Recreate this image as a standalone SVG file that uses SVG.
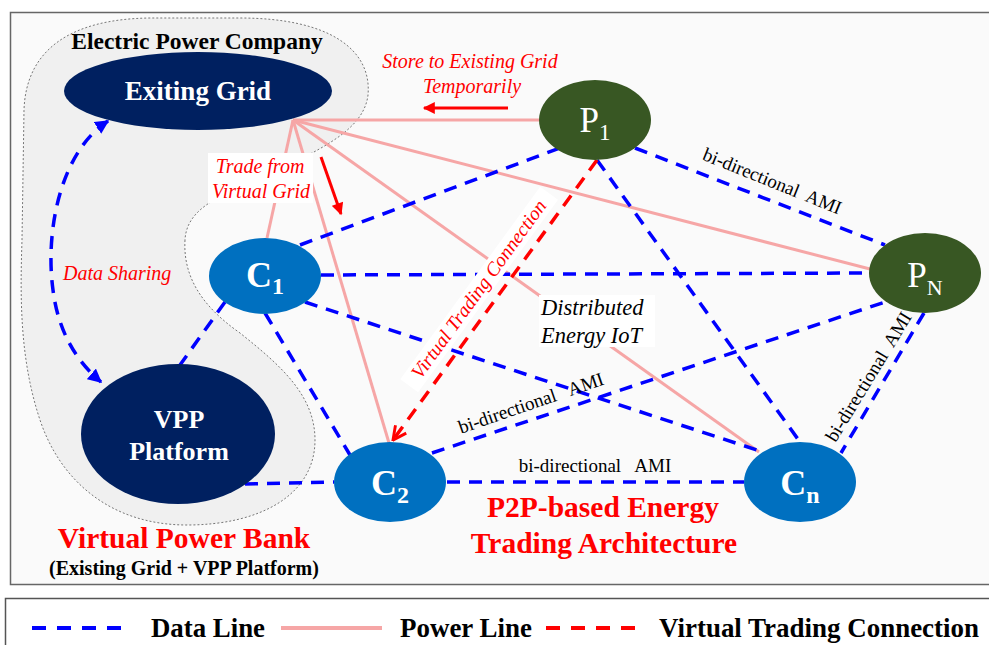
<svg xmlns="http://www.w3.org/2000/svg" width="989" height="645" viewBox="0 0 989 645">
<style>
.serif{font-family:"Liberation Serif","Times New Roman",serif}
.data{stroke:#0000ff;stroke-width:3.5;stroke-dasharray:13 9;fill:none}
.power{stroke:#f6a6a6;stroke-width:3;fill:none}
.vtc{stroke:#ff0000;stroke-width:3.5;stroke-dasharray:13 9;fill:none}
.redarrow{stroke:#ff0000;stroke-width:3;fill:none}
.nodeTxt{fill:#ffffff;font-family:"Liberation Serif","Times New Roman",serif}
.redIt{fill:#ff0000;font-style:italic;font-size:20px;font-family:"Liberation Serif","Times New Roman",serif}
.ami{fill:#000;font-size:19px;font-family:"Liberation Serif","Times New Roman",serif;white-space:pre}
.legend{fill:#000;font-weight:bold;font-size:27px;font-family:"Liberation Serif","Times New Roman",serif}
</style>
<defs>
<marker id="blueHead" viewBox="0 0 10 10" refX="9" refY="5" markerWidth="14" markerHeight="14" markerUnits="userSpaceOnUse" orient="auto-start-reverse">
<path d="M0,0 L10,5 L0,10 Z" fill="#0000ff"/>
</marker>
<marker id="redHead" viewBox="0 0 10 10" refX="9" refY="5" markerWidth="14" markerHeight="12" markerUnits="userSpaceOnUse" orient="auto">
<path d="M0,0 L10,5 L0,10 Z" fill="#ff0000"/>
</marker>
<marker id="redChevron" viewBox="0 0 12 12" refX="11" refY="6" markerWidth="16" markerHeight="16" markerUnits="userSpaceOnUse" orient="auto">
<path d="M1,1 L11,6 L1,11" fill="none" stroke="#ff0000" stroke-width="2.2"/>
</marker>
</defs>

<rect x="10.5" y="12.5" width="990" height="572" fill="#fafafa" stroke="#666" stroke-width="1.5"/>

<g id="virtual-power-bank">
<path d="M 185,240 C 183,275 200,305 240,333 C 280,365 315,395 315,440 C 315,495 260,525 187,525 C 110,525 60,480 40,420 C 20,360 20,300 22,240 L 24,110 C 26,50 70,19 150,18 L 240,18 C 330,18 372,50 368,95 C 364,130 320,148 290,165 C 240,190 187,200 185,240 Z" fill="#f0f0f0" stroke="#777" stroke-width="1" stroke-dasharray="2 2"/>
<text class="serif" x="197" y="49" text-anchor="middle" font-size="23.5" font-weight="bold" fill="#000">Electric Power Company</text>
<text class="serif" x="184" y="548" text-anchor="middle" font-size="29.5" font-weight="bold" fill="#ff0000">Virtual Power Bank</text>
<text class="serif" x="184" y="575" text-anchor="middle" font-size="20" font-weight="bold" fill="#000">(Existing Grid + VPP Platform)</text>
</g>

<g id="connectors">
<g id="power-lines">
<line class="power" x1="293" y1="120" x2="539" y2="120"/>
<line class="power" x1="293" y1="120" x2="870" y2="269"/>
<line class="power" x1="293" y1="120" x2="267" y2="238"/>
<line class="power" x1="293" y1="120" x2="389" y2="443"/>
<line class="power" x1="293" y1="120" x2="759" y2="452"/>
</g>
<g id="data-lines">
<line class="data" x1="300" y1="245" x2="560" y2="148"/>
<line class="data" x1="321" y1="275" x2="869" y2="273"/>
<line class="data" x1="305" y1="302" x2="757" y2="450"/>
<line class="data" x1="265" y1="313" x2="350" y2="455"/>
<line class="data" x1="225" y1="302" x2="180" y2="365"/>
<line class="data" x1="245" y1="484" x2="334" y2="482"/>
<line class="data" x1="432" y1="453" x2="885" y2="302"/>
<line class="data" x1="447" y1="482" x2="744" y2="482"/>
<line class="data" x1="635" y1="148" x2="885" y2="245"/>
<line class="data" x1="597" y1="160" x2="800" y2="442"/>
<line class="data" x1="924" y1="313" x2="841" y2="453"/>
<path class="data" d="M 108,121 C 60,152 45,232 53,290 C 58,330 75,360 101,382" marker-start="url(#blueHead)" marker-end="url(#blueHead)"/>
</g>
<g id="virtual-trading">
<line class="vtc" x1="597" y1="160" x2="393" y2="440" marker-end="url(#redChevron)"/>
</g>
<g id="flow-arrows">
<line class="redarrow" x1="508" y1="108" x2="424" y2="108" marker-end="url(#redHead)"/>
<line class="redarrow" x1="321" y1="157" x2="341" y2="214" marker-end="url(#redHead)"/>
</g>
</g>

<g id="labels">
<text class="redIt" x="470" y="68" text-anchor="middle">Store to Existing Grid</text>
<text class="redIt" x="472" y="93" text-anchor="middle">Temporarily</text>
<rect x="208" y="153" width="105" height="50" fill="#ffffff"/>
<text class="redIt" x="260" y="173" text-anchor="middle">Trade from</text>
<text class="redIt" x="261" y="198" text-anchor="middle">Virtual Grid</text>
<text class="redIt" x="63" y="280">Data Sharing</text>
<g transform="translate(484,293) rotate(-54)">
<rect x="-119" y="-17" width="238" height="22" fill="#ffffff"/>
<text class="redIt" x="0" y="0" text-anchor="middle" style="font-size:19.5px">Virtual Trading Connection</text>
</g>
<rect x="539" y="295" width="116" height="52" fill="#ffffff"/>
<text class="serif" x="541" y="315" font-size="22.5" font-style="italic" fill="#000">Distributed</text>
<text class="serif" x="541" y="343" font-size="22.5" font-style="italic" fill="#000">Energy IoT</text>
<text class="ami" x="0" y="0" text-anchor="middle" transform="translate(770,187) rotate(22)">bi-directional  AMI</text>
<text class="ami" x="0" y="0" text-anchor="middle" transform="translate(533,409) rotate(-19)">bi-directional   AMI</text>
<text class="ami" x="595" y="472" text-anchor="middle">bi-directional   AMI</text>
<text class="ami" x="0" y="0" text-anchor="middle" transform="translate(874,380) rotate(-58.7)">bi-directional  AMI</text>
<text class="serif" x="603" y="517" text-anchor="middle" font-size="29.5" font-weight="bold" fill="#ff0000">P2P-based Energy</text>
<text class="serif" x="604" y="553" text-anchor="middle" font-size="29.5" font-weight="bold" fill="#ff0000">Trading Architecture</text>
</g>

<g id="node-exiting-grid">
<ellipse cx="198" cy="91" rx="134" ry="39" fill="#002060"/>
<text class="nodeTxt" x="198" y="100" text-anchor="middle" font-size="27" font-weight="bold">Exiting Grid</text>
</g>
<g id="node-vpp">
<ellipse cx="178" cy="434" rx="97" ry="70" fill="#002060"/>
<text class="nodeTxt" x="179" y="428" text-anchor="middle" font-size="26" font-weight="bold">VPP</text>
<text class="nodeTxt" x="179" y="460" text-anchor="middle" font-size="26" font-weight="bold">Platform</text>
</g>
<g id="node-p1">
<ellipse cx="595" cy="120" rx="56" ry="40" fill="#385723"/>
<text class="nodeTxt" x="595" y="132" text-anchor="middle" font-size="35">P<tspan font-size="23" dy="8">1</tspan></text>
</g>
<g id="node-pn">
<ellipse cx="925" cy="273" rx="56" ry="40" fill="#385723"/>
<text class="nodeTxt" x="925" y="287" text-anchor="middle" font-size="35">P<tspan font-size="22" dy="8">N</tspan></text>
</g>
<g id="node-c1">
<ellipse cx="265" cy="276" rx="56" ry="38" fill="#0070c0"/>
<text class="nodeTxt" x="265" y="287" text-anchor="middle" font-size="36" font-weight="bold">C<tspan font-size="24" dy="7">1</tspan></text>
</g>
<g id="node-c2">
<ellipse cx="390" cy="482" rx="56" ry="40" fill="#0070c0"/>
<text class="nodeTxt" x="390" y="495" text-anchor="middle" font-size="36" font-weight="bold">C<tspan font-size="24" dy="8">2</tspan></text>
</g>
<g id="node-cn">
<ellipse cx="800" cy="482" rx="56" ry="40" fill="#0070c0"/>
<text class="nodeTxt" x="800" y="495" text-anchor="middle" font-size="36" font-weight="bold">C<tspan font-size="24" dy="8">n</tspan></text>
</g>

<g id="legend">
<rect x="5.5" y="598.5" width="990" height="60" fill="#ffffff" stroke="#555" stroke-width="1.5"/>
<line x1="32" y1="628" x2="124" y2="628" stroke="#0000ff" stroke-width="4" stroke-dasharray="14 11"/>
<text class="legend" x="151" y="637" textLength="114" lengthAdjust="spacingAndGlyphs">Data Line</text>
<line x1="281" y1="628" x2="382" y2="628" stroke="#f6a6a6" stroke-width="4"/>
<text class="legend" x="400" y="637" textLength="132" lengthAdjust="spacingAndGlyphs">Power Line</text>
<line x1="546" y1="628" x2="635" y2="628" stroke="#ff0000" stroke-width="4" stroke-dasharray="14 11"/>
<text class="legend" x="659" y="637" textLength="320" lengthAdjust="spacingAndGlyphs">Virtual Trading Connection</text>
</g>
</svg>
